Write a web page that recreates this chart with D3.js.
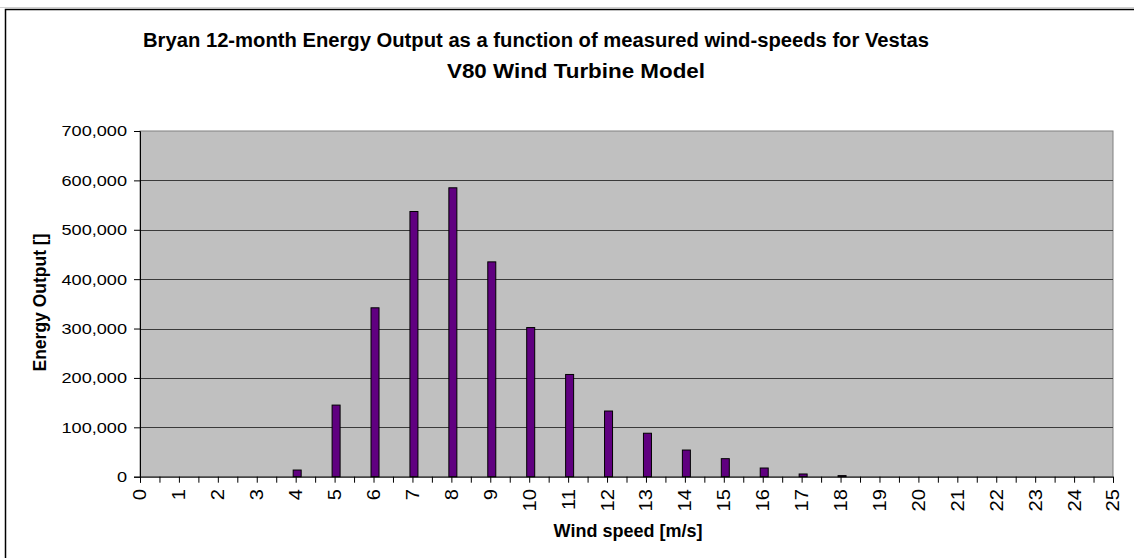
<!DOCTYPE html>
<html>
<head>
<meta charset="utf-8">
<script src="https://cdn.jsdelivr.net/npm/d3@7"></script>
<style>
  html, body { margin: 0; padding: 0; background: #fff; }
  svg { display: block; font-family: "Liberation Sans", Arial, sans-serif; }
</style>
</head>
<body>
<svg id="chart" width="1134" height="558"></svg>
<script>
// Wind speed bins [m/s] and the yearly energy produced in each bin
const windSpeeds = [4, 5, 6, 7, 8, 9, 10, 11, 12, 13, 14, 15, 16, 17, 18];
const energyOutput = [13500, 145000, 342000, 537000, 585000, 435000, 302000, 207000, 133000, 88000, 54000, 36500, 17600, 5500, 2200];
const xTickLabels = d3.range(0, 26);
const yTickValues = [0, 100000, 200000, 300000, 400000, 500000, 600000, 700000];
const titleLines = ["Bryan 12-month Energy Output as a function of measured wind-speeds for Vestas", "V80 Wind Turbine Model"];

const svg = d3.select("#chart");
const plot = { left: 140, right: 1113, top: 131, bottom: 476.7 };

const x = d3.scaleLinear().domain([0, 25]).range([plot.left, plot.right]);
const y = d3.scaleLinear().domain([0, 700000]).range([plot.bottom, plot.top]);

// stretch a text element along its reading direction
function stretch(sel, factor) {
  sel.each(function () {
    const w = this.getComputedTextLength();
    d3.select(this).attr("textLength", w * factor).attr("lengthAdjust", "spacingAndGlyphs");
  });
}

// thin page rule and the chart frame
svg.append("line").attr("x1", 0).attr("x2", 1134).attr("y1", 7.5).attr("y2", 7.5)
  .attr("stroke", "#d0d0d0").attr("stroke-width", 1);
svg.append("rect").attr("x", 5.5).attr("y", 9.5).attr("width", 1140).attr("height", 560)
  .attr("fill", "#fff").attr("stroke", "#000").attr("stroke-width", 1.5);

// title
const tCenters = [536, 576];
const tWidths = [786, 258];
const tBase = [47.3, 78.3];
titleLines.forEach((t, i) => {
  svg.append("text").attr("x", tCenters[i]).attr("y", tBase[i])
    .attr("text-anchor", "middle").attr("font-weight", "bold").attr("font-size", 20)
    .attr("textLength", tWidths[i]).attr("lengthAdjust", "spacingAndGlyphs")
    .text(t);
});

// plot area
svg.append("rect").attr("x", plot.left).attr("y", plot.top)
  .attr("width", plot.right - plot.left).attr("height", plot.bottom - plot.top)
  .attr("fill", "#c0c0c0").attr("stroke", "#808080").attr("stroke-width", 1);

// gridlines
svg.append("g").selectAll("line").data(yTickValues.filter(v => v > 0 && v < 700000)).join("line")
  .attr("x1", plot.left).attr("x2", plot.right)
  .attr("y1", d => Math.round(y(d)) + 0.5).attr("y2", d => Math.round(y(d)) + 0.5)
  .attr("stroke", "#3a3a3a").attr("stroke-width", 1);

// bars
svg.append("g").selectAll("rect").data(windSpeeds).join("rect")
  .attr("x", (d) => x(d) - 2.5)
  .attr("width", 8)
  .attr("y", (d, i) => y(energyOutput[i]))
  .attr("height", (d, i) => plot.bottom - y(energyOutput[i]))
  .attr("fill", "#600080").attr("stroke", "#000").attr("stroke-width", 1);

// y axis
const yAxis = d3.axisLeft(y).tickValues(yTickValues).tickSize(6).tickPadding(7)
  .tickFormat(d3.format(","));
const yg = svg.append("g").attr("transform", `translate(${plot.left},0)`).call(yAxis);
yg.select(".domain").attr("stroke", "#000");
yg.selectAll(".tick line").attr("stroke", "#000");
yg.selectAll(".tick text").attr("font-size", 15.5).attr("fill", "#000")
  .attr("font-family", "Liberation Sans, Arial, sans-serif").call(stretch, 1.17);

// x axis: ticks every half step, labels on whole numbers
const xAxis = d3.axisBottom(x).tickValues(d3.range(0, 25.5, 0.5)).tickSize(6).tickFormat("");
const xg = svg.append("g").attr("transform", `translate(0,${plot.bottom})`).call(xAxis);
xg.select(".domain").attr("stroke", "#000");
xg.selectAll(".tick line").attr("stroke", "#000");

svg.append("g").selectAll("text").data(xTickLabels).join("text")
  .attr("transform", d => `translate(${x(d)},489) rotate(-90)`)
  .attr("text-anchor", "end").attr("dy", "0.36em")
  .attr("font-size", 18).attr("fill", "#000")
  .text(d => d)
  .call(stretch, 1.12);

// axis titles
svg.append("text").attr("x", 628).attr("y", 536.7).attr("text-anchor", "middle")
  .attr("font-weight", "bold").attr("font-size", 18).text("Wind speed [m/s]");
svg.append("text").attr("transform", "translate(46,302.5) rotate(-90)").attr("text-anchor", "middle")
  .attr("font-weight", "bold").attr("font-size", 17.5).text("Energy Output []");
</script>
</body>
</html>
